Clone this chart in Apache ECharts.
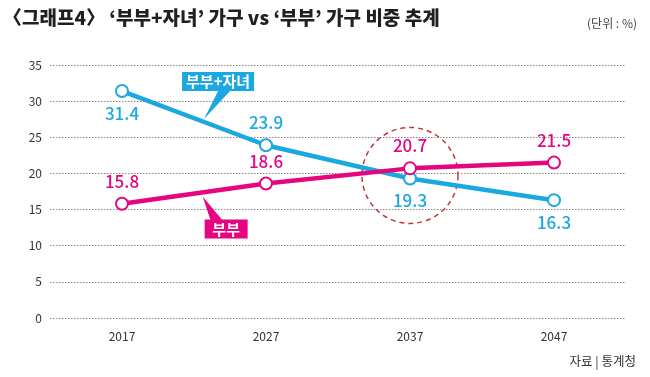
<!DOCTYPE html>
<html><head><meta charset="utf-8">
<script src="https://cdn.jsdelivr.net/npm/echarts@6/dist/echarts.min.js"></script>
<style>html,body{margin:0;padding:0;background:#fff}#c{width:650px;height:377px}</style>
</head><body><div id="c"></div>
<script>
const years = ['2017','2027','2037','2047'];
const coupleChildren = [31.4, 23.9, 19.3, 16.3];
const coupleOnly = [15.8, 18.6, 20.7, 21.5];
const yTicks = [0,5,10,15,20,25,30,35];
const BLUE = '#1ba8e1', PINK = '#e5067f';
const FONT = '"Noto Sans CJK KR", "Noto Sans", sans-serif';

const chart = echarts.init(document.getElementById('c'));
const lbl = (color, pos) => ({show:true, position:pos, distance:7, color:color, fontSize:17, fontFamily:FONT, fontWeight:500, letterSpacing:-1});
chart.setOption({
  animation:false,
  textStyle:{fontFamily:FONT},
  title:[
    {text:'〈그래프4〉 ‘부부+자녀’ 가구 vs ‘부부’ 가구 비중 추계', left:-2, top:3,
     textStyle:{fontSize:19, fontWeight:900, color:'#231f20', fontFamily:FONT, letterSpacing:-1.6}},
    {text:'(단위 : %)', right:8, top:12, textStyle:{fontSize:12, fontWeight:'normal', color:'#444', fontFamily:FONT}},
    {text:'자료 | 통계청', right:9, top:350, textStyle:{fontSize:12.5, fontWeight:'normal', color:'#333', fontFamily:FONT}}
  ],
  grid:{left:50, right:24, top:65, bottom:59},
  xAxis:{type:'category', data:years, boundaryGap:true,
    axisLine:{show:false}, axisTick:{show:false},
    axisLabel:{color:'#333', fontSize:12, margin:12, fontFamily:FONT, letterSpacing:-0.5}},
  yAxis:{type:'value', min:yTicks[0], max:yTicks[yTicks.length-1], interval:5,
    axisLine:{show:false}, axisTick:{show:false},
    axisLabel:{color:'#333', fontSize:12, margin:8, fontFamily:FONT, letterSpacing:-0.5},
    splitLine:{lineStyle:{type:[1.5,1.5], color:'#888', width:1}}},
  series:[
    {name:'부부+자녀', type:'line', z:3,
     data:coupleChildren.map((v,i)=> i===1 ? {value:v, label:{position:'top'}} : v),
     lineStyle:{color:BLUE, width:4.5}, itemStyle:{color:BLUE, borderColor:BLUE, borderWidth:3.5},
     symbol:'emptyCircle', symbolSize:12,
     label:lbl(BLUE,'bottom')},
    {name:'부부', type:'line', data:coupleOnly, z:4,
     lineStyle:{color:PINK, width:4.5}, itemStyle:{color:PINK, borderColor:PINK, borderWidth:3.5},
     symbol:'emptyCircle', symbolSize:12,
     label:lbl(PINK,'top')}
  ]
});

function px(i, v){ return chart.convertToPixel({xAxisIndex:0,yAxisIndex:0},[i, v]); }
function lerp(a,b,t){ return [a[0]+(b[0]-a[0])*t, a[1]+(b[1]-a[1])*t]; }

const b0 = px(0, coupleChildren[0]), b1 = px(1, coupleChildren[1]);
const p0 = px(0, coupleOnly[0]), p1 = px(1, coupleOnly[1]);
const tipB = lerp(b0, b1, 0.57);
const tipP = lerp(p0, p1, 0.56);
const c2 = px(2, (coupleChildren[2]+coupleOnly[2])/2);

chart.setOption({graphic:[
  {type:'circle', shape:{cx:c2[0], cy:c2[1]+2, r:48}, z:1,
   style:{fill:'none', stroke:'#c8323c', lineWidth:1.5, lineDash:[5,4]}},
  // blue callout
  {type:'polygon', z:10, shape:{points:[[tipB[0]+14, tipB[1]-31],[tipB[0]+26, tipB[1]-31],[tipB[0], tipB[1]-3]]}, style:{fill:BLUE}},
  {type:'rect', z:10, shape:{x:tipB[0]-22, y:tipB[1]-50, width:72, height:19}, style:{fill:BLUE}},
  {type:'text', z:11, x:tipB[0]+14, y:tipB[1]-40.5, style:{text:'부부+자녀', fill:'#fff', fontSize:15, fontWeight:'bold', fontFamily:FONT, align:'center', verticalAlign:'middle'}},
  // pink callout
  {type:'polygon', z:10, shape:{points:[[tipP[0], tipP[1]+4],[tipP[0]+8, tipP[1]+28],[tipP[0]+20, tipP[1]+28]]}, style:{fill:PINK}},
  {type:'rect', z:10, shape:{x:tipP[0]+2, y:tipP[1]+27, width:43, height:19}, style:{fill:PINK}},
  {type:'text', z:11, x:tipP[0]+23.5, y:tipP[1]+36.5, style:{text:'부부', fill:'#fff', fontSize:15, fontWeight:'bold', fontFamily:FONT, align:'center', verticalAlign:'middle'}}
]});
</script></body></html>
